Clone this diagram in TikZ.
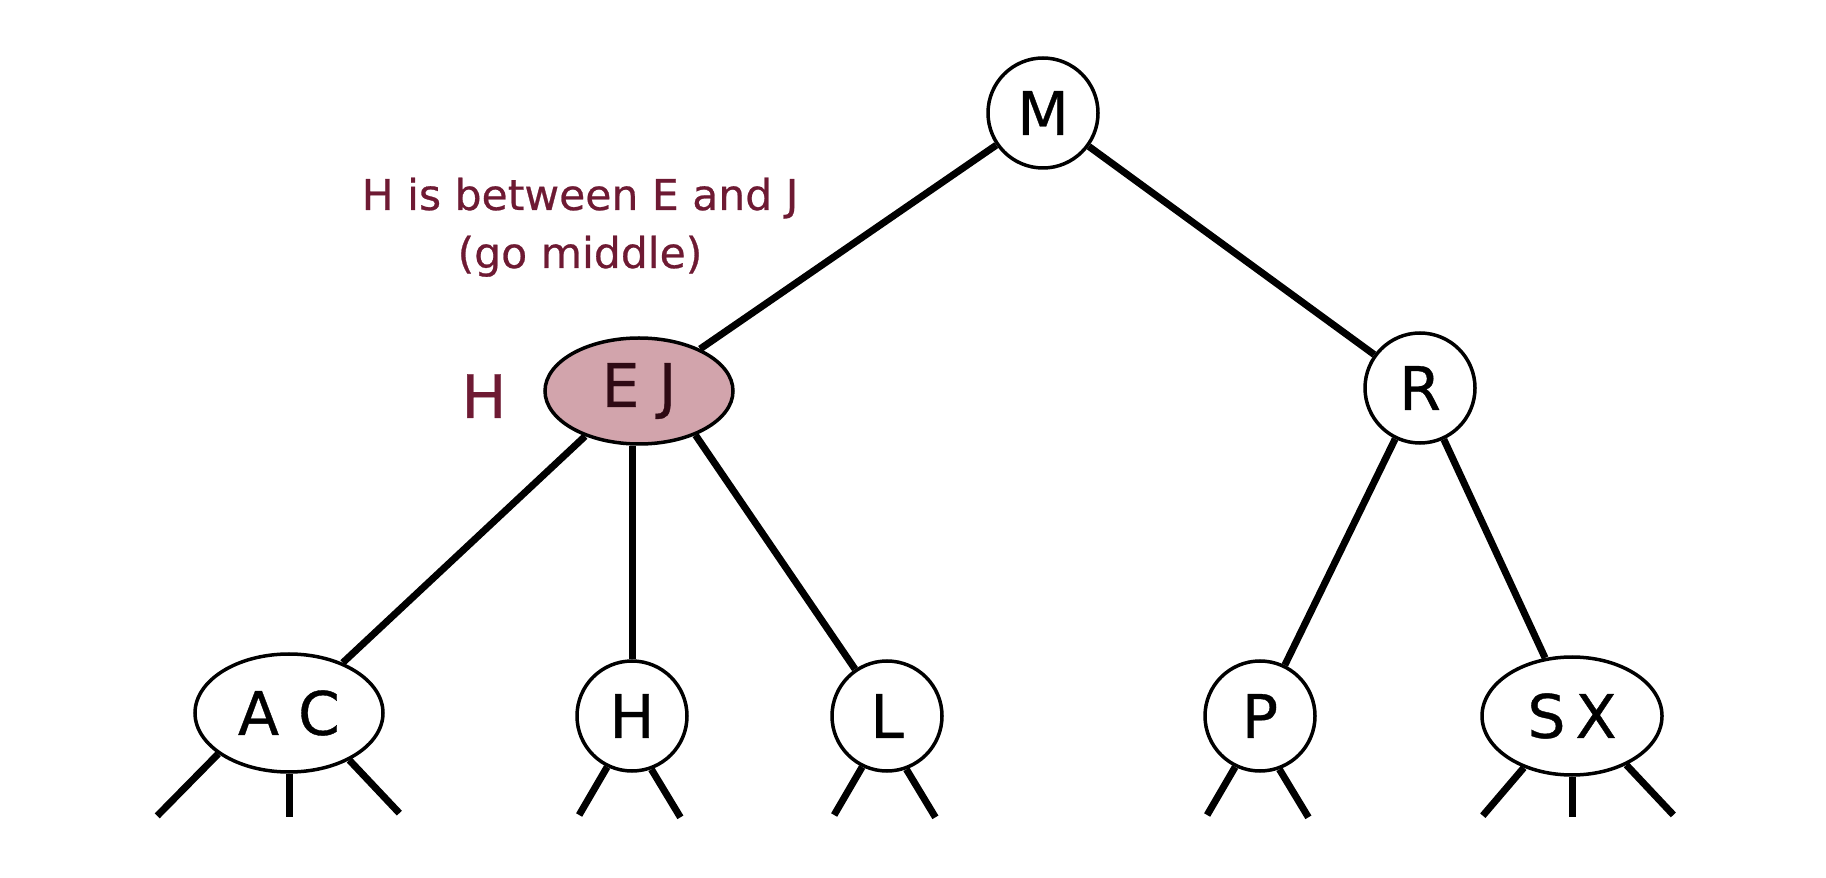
\documentclass[tikz,border=0pt]{standalone}
\usepackage{fontspec}
\setmainfont{DejaVu Sans}[FakeBold=0.6]
\usetikzlibrary{shapes.geometric}
\definecolor{hlred}{HTML}{6E1A33}
\definecolor{hlfill}{HTML}{D2A4AC}
\definecolor{hltext}{HTML}{2E0A14}
\tikzset{
  keyfont/.style={font=\fontsize{24}{28}\selectfont},
  onekey/.style={circle, draw=black, line width=1.4pt, fill=white, minimum size=44pt, inner sep=0pt, keyfont},
  twokey/.style={ellipse, draw=black, line width=1.4pt, fill=white, minimum width=75.2pt, minimum height=47.2pt, inner sep=0pt, keyfont},
  link/.style={line width=2.8pt},
  note/.style={text=hlred, font=\fontsize{17}{20}\selectfont, anchor=base}
}
\begin{document}
\begin{tikzpicture}[x=0.4pt,y=-0.4pt]
\useasboundingbox (0,0) rectangle (1826,878);
% nodes
\node[onekey] (M) at (1043,113) {M};
\node[onekey] (R) at (1420,388) {R};
\node[twokey, fill=hlfill, text=hltext, minimum height=42.4pt] (EJ) at (639,391) {E J};
\node[twokey] (AC) at (289,713) {A C};
\node[onekey] (H) at (632,716) {H};
\node[onekey] (L) at (887,716) {L};
\node[onekey] (P) at (1260,716) {P};
\node[twokey, minimum width=72pt] (SX) at (1572,716) {S\,X};
% annotations
\node[note] (n1) at (580,210) {H is between E and J};
\node[note] (n2) at (580,268) {(go middle)};
\node[text=hlred, font=\fontsize{24}{28}\selectfont, anchor=base] (hq) at (484,418) {H};
% tree links
\draw[link] (M) -- (EJ);
\draw[link] (M) -- (R);
\draw[link] (EJ.-140) -- (AC);
\draw[link] (H.north) -- (H.north |- EJ.south);
\draw[link] (EJ.-38) -- (L);
\draw[link] (R) -- (P);
\draw[link] (R) -- (SX);
% null links
\draw[link] (AC.-150.6) -- ++(-61,62);
\draw[link] (AC.south) -- ++(0,43);
\draw[link] (AC.-38.8) -- ++(50,53);
\foreach \n in {H,L,P}{
  \draw[link] (\n.-116) -- ++(-28,48);
  \draw[link] (\n.-70) -- ++(29,48);
}
\draw[link] (SX.-133.9) -- ++(-41,48);
\draw[link] (SX.south) -- ++(0,40);
\draw[link] (SX.-42.8) -- ++(47,50);
\end{tikzpicture}
\end{document}
